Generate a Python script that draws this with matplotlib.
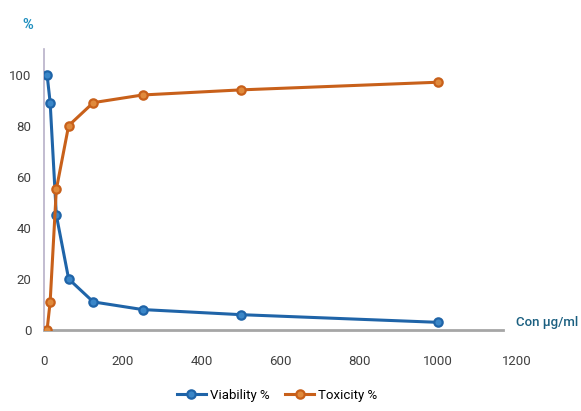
import matplotlib

matplotlib.use("Agg")
import matplotlib.pyplot as plt

conc = [7.8, 15.6, 31.25, 62.5, 125, 250, 500, 1000]
viability = [100, 89, 45, 20, 11, 8, 6, 3]
toxicity = [0, 11, 55, 80, 89, 92, 94, 97]
x_ticks = [0, 200, 400, 600, 800, 1000, 1200]
y_ticks = [0, 20, 40, 60, 80, 100]

plt.rcParams["font.family"] = ["Roboto", "DejaVu Sans"]

blue = "#1f64a8"
orange = "#c8601a"

fig = plt.figure(figsize=(5.81, 4.11), dpi=100)
ax = fig.add_axes([44 / 581, (411 - 330) / 411, (517 - 44) / 581, (330 - 49) / 411])

ax.plot(conc, viability, color=blue, lw=2.2, marker="o", ms=6,
        mfc="#3a86c8", mec=blue, mew=1.6, label="Viability %", zorder=3)
ax.plot(conc, toxicity, color=orange, lw=2.2, marker="o", ms=6,
        mfc="#e08a3c", mec=orange, mew=1.6, label="Toxicity %", zorder=3)

ax.set_xlim(0, 1200)
ax.set_ylim(0, 110)
ax.set_xticks(x_ticks)
ax.set_yticks(y_ticks)
ax.tick_params(length=0, labelsize=9.5, labelcolor="#404040", pad=9)
ax.tick_params(axis="x", pad=18)

for side in ("top", "right"):
    ax.spines[side].set_visible(False)
ax.spines["bottom"].set_color("#a6a6a6")
ax.spines["bottom"].set_linewidth(2)
ax.spines["bottom"].set_bounds(0, 1165)
ax.spines["left"].set_color("#b8b0c8")
ax.spines["left"].set_linewidth(1.2)

fig.text(28 / 581, 1 - 25 / 411, "%", color="#1f8fbf", fontsize=10.5,
         fontweight="bold", ha="center", va="center")
fig.text(578 / 581, 1 - 322 / 411, "Con µg/ml", color="#1a5f80", fontsize=9.5,
         fontweight="medium", ha="right", va="center")

fig.legend(loc="center", bbox_to_anchor=(277 / 581, 1 - 395 / 411), ncol=2,
           frameon=False, fontsize=9.5, handlelength=2.2, columnspacing=1.2,
           handletextpad=0.3)

fig.savefig("out.png", dpi=100)
